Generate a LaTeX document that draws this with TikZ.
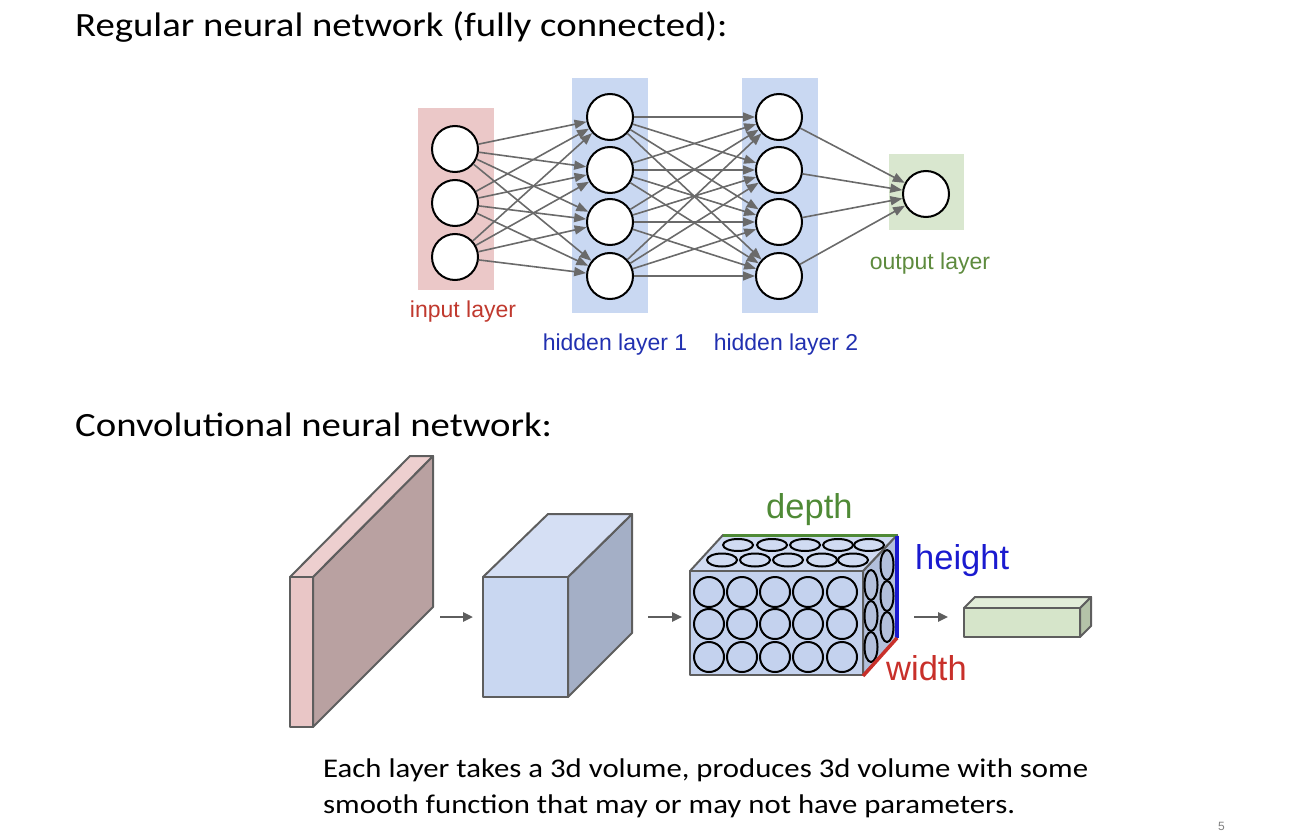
\documentclass[tikz,border=0pt]{standalone}
\usepackage{fontspec}
\setmainfont{Carlito}[FakeStretch=1.14]
\newfontfamily\labelfont{Liberation Sans}
\usetikzlibrary{arrows.meta}

\definecolor{inbg}{HTML}{EBC8C8}
\definecolor{hidbg}{HTML}{C9D8F2}
\definecolor{outbg}{HTML}{D9E7CF}
\definecolor{inlbl}{HTML}{C0392E}
\definecolor{hidlbl}{HTML}{2130B0}
\definecolor{outlbl}{HTML}{5E8B3E}
\definecolor{wire}{HTML}{6A6A6A}
\definecolor{edge}{HTML}{5E5E5E}
\definecolor{slabfront}{HTML}{E9C6C6}
\definecolor{slabtop}{HTML}{EDCFCF}
\definecolor{slabside}{HTML}{B9A1A1}
\definecolor{cubefront}{HTML}{C9D7F1}
\definecolor{cubetop}{HTML}{D5DFF4}
\definecolor{cubeside}{HTML}{A4AFC6}
\definecolor{volfront}{HTML}{C4D2EE}
\definecolor{voltop}{HTML}{D0DBF2}
\definecolor{volside}{HTML}{B3C0DC}
\definecolor{fcfront}{HTML}{D6E5CA}
\definecolor{fctop}{HTML}{E2EDD9}
\definecolor{fcside}{HTML}{B4C3A8}
\definecolor{depthc}{HTML}{4F8A36}
\definecolor{heightc}{HTML}{1A1ACF}
\definecolor{widthc}{HTML}{C8302A}

\tikzset{
  neuron/.style={circle, draw=black, line width=2pt, fill=white, minimum size=46pt, inner sep=0pt},
  conn/.style={draw=wire, line width=1.6pt, -{Triangle[length=12pt,width=9pt]}},
  lbl/.style={font=\labelfont\fontsize{23}{27}\selectfont, inner sep=0pt},
  dimlbl/.style={font=\labelfont\fontsize{34.5}{40}\selectfont, inner sep=0pt, anchor=base west},
  title/.style={font=\fontsize{34}{40}\selectfont, inner sep=0pt, anchor=base west},
  body/.style={font=\fontsize{27}{36}\selectfont, inner sep=0pt, anchor=base west},
  face/.style={draw=edge, line width=2pt, line join=round},
  flow/.style={draw=edge, line width=2.4pt, -{Triangle[length=10pt,width=9pt]}},
  unit/.style={draw=black, line width=2pt},
}

\begin{document}
\begin{tikzpicture}[x=1pt,y=-1pt]
\useasboundingbox (0,0) rectangle (1316,832);

% ---------- fully connected network ----------
\node[title] (t1) at (75,37) {Regular neural network (fully connected):};

\fill[inbg]  (418,108) rectangle (494,290);
\fill[hidbg] (572,78)  rectangle (648,313);
\fill[hidbg] (742,78)  rectangle (818,313);
\fill[outbg] (889,154) rectangle (964,230);

\foreach \k/\y in {1/149,2/203,3/257}
  \node[neuron] (i\k) at (455,\y) {};
\foreach \k/\y in {1/117,2/170,3/222,4/276}{
  \node[neuron] (h\k) at (610,\y) {};
  \node[neuron] (g\k) at (779,\y) {};
}
\node[neuron] (o) at (926,194) {};

\foreach \a in {1,2,3}
  \foreach \b in {1,2,3,4}
    \draw[conn] (i\a) -- (h\b);
\foreach \a in {1,2,3,4}
  \foreach \b in {1,2,3,4}
    \draw[conn] (h\a) -- (g\b);
\foreach \a in {1,2,3,4}
  \draw[conn] (g\a) -- (o);

\node[lbl, text=inlbl]  (linput) at (463,312) {input layer};
\node[lbl, text=hidlbl] (lh1)    at (615,345) {hidden layer 1};
\node[lbl, text=hidlbl] (lh2)    at (786,345) {hidden layer 2};
\node[lbl, text=outlbl] (lout)   at (930,264) {output layer};

% ---------- convolutional network ----------
\node[title] (t2) at (75,436) {Convolutional neural network:};

% input slab
\filldraw[face, fill=slabside]  (313,577) -- (433,456) -- (433,607) -- (313,727) -- cycle;
\filldraw[face, fill=slabtop]   (290,577) -- (410,456) -- (433,456) -- (313,577) -- cycle;
\filldraw[face, fill=slabfront] (290,577) rectangle (313,727);

% hidden volume
\filldraw[face, fill=cubeside]  (568,577) -- (632,514) -- (632,633) -- (568,697) -- cycle;
\filldraw[face, fill=cubetop]   (483,577) -- (548,514) -- (632,514) -- (568,577) -- cycle;
\filldraw[face, fill=cubefront] (483,577) rectangle (568,697);

% volume of neurons
\filldraw[face, fill=volside]  (863,571) -- (897,535) -- (897,638) -- (863,675) -- cycle;
\filldraw[face, fill=voltop]   (690,571) -- (723,535) -- (897,535) -- (863,571) -- cycle;
\filldraw[face, fill=volfront] (690,571) rectangle (863,675);

\foreach \x in {738,772,805,838,869}
  \draw[unit, fill=voltop] (\x,545) ellipse [x radius=15pt, y radius=6pt];
\foreach \x in {722,755,788,822,853}
  \draw[unit, fill=voltop] (\x,560) ellipse [x radius=15pt, y radius=6.5pt];
\foreach \y in {565,596,627}
  \draw[unit, fill=volside] (887,\y) ellipse [x radius=6.5pt, y radius=15pt];
\foreach \y in {585,616,647}
  \draw[unit, fill=volside] (871,\y) ellipse [x radius=6.5pt, y radius=15pt];
\foreach \x in {709,742,775,808,842}
  \foreach \y in {592,624,657}
    \draw[unit] (\x,\y) circle [radius=15pt];

\draw[depthc, line width=3pt]  (723,535) -- (897,535);
\draw[heightc, line width=3.5pt] (897,536) -- (897,638);
\draw[widthc, line width=3.5pt] (863,676) -- (897,638);

\node[dimlbl, text=depthc]  (ldepth)  at (766,518) {depth};
\node[dimlbl, text=heightc] (lheight) at (915,569) {height};
\node[dimlbl, text=widthc]  (lwidth)  at (886,680) {width};

% fully connected output block
\filldraw[face, fill=fcside]  (1080,608) -- (1091,597) -- (1091,626) -- (1080,637) -- cycle;
\filldraw[face, fill=fctop]   (964,608) -- (975,597) -- (1091,597) -- (1080,608) -- cycle;
\filldraw[face, fill=fcfront] (964,608) rectangle (1080,637);

% flow between stages
\coordinate (a1s) at (440,617); \coordinate (a1e) at (473,617);
\coordinate (a2s) at (648,617); \coordinate (a2e) at (682,617);
\coordinate (a3s) at (914,617); \coordinate (a3e) at (948,617);
\draw[flow] (a1s) -- (a1e);
\draw[flow] (a2s) -- (a2e);
\draw[flow] (a3s) -- (a3e);

\node[body] (b1) at (323,777) {Each layer takes a 3d volume, produces 3d volume with some};
\node[body] (b2) at (323,813) {smooth function that may or may not have parameters.};

\node[font=\labelfont\fontsize{12}{14}\selectfont, text=gray, anchor=base west, inner sep=0pt] (pg) at (1218,830) {5};
\end{tikzpicture}
\end{document}
